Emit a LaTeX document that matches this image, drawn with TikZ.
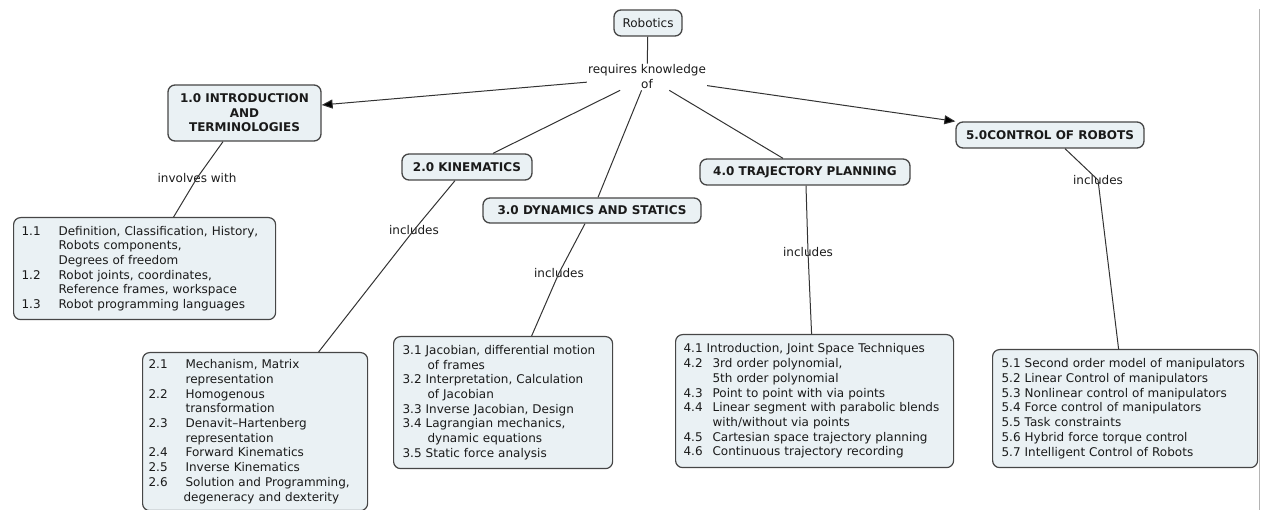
\documentclass[tikz,border=0pt]{standalone}
\usepackage{fontspec}
\setmainfont{DejaVu Sans}
\usetikzlibrary{arrows.meta}
\definecolor{boxfill}{HTML}{EAF1F4}
\definecolor{boxline}{HTML}{464646}
\definecolor{wire}{HTML}{333333}
\definecolor{ink}{HTML}{1A1A1A}
\definecolor{rule}{HTML}{B4B4B4}
\begin{document}
\begin{tikzpicture}[x=1pt,y=-1pt,
  concept/.style={draw=boxline, line width=1.3pt, fill=boxfill, rounded corners=7pt,
    text=ink, font=\fontsize{12}{14.5}\selectfont\bfseries, inner sep=0pt, align=center},
  rootbox/.style={concept, font=\fontsize{12}{14.5}\selectfont},
  listbox/.style={draw=boxline, line width=1.2pt, fill=boxfill, rounded corners=7pt,
    text=ink, font=\fontsize{12}{14.7}\selectfont, anchor=north west, inner ysep=0pt, align=left},
  linkword/.style={text=ink, font=\fontsize{12}{15}\selectfont, align=center, inner sep=1pt},
  conn/.style={draw=wire, line width=1pt},
  arr/.style={conn, -{Triangle[length=11pt,width=9pt,fill=black]}}
]
\useasboundingbox (0,0) rectangle (1262,510);

% frame rule on the right
\coordinate (ruletop) at (1259,9);
\coordinate (rulebot) at (1259,510);
\draw[rule, line width=1pt] (ruletop) -- (rulebot);

% root concept and its linking phrase
\node[rootbox, minimum width=68pt, minimum height=26pt] (root) at (648,23) {Robotics};
\node[linkword] (req) at (647,77) {requires knowledge\\of};

% main topics
\node[concept, minimum width=153pt, minimum height=56pt] (intro) at (244.5,113)
  {1.0 INTRODUCTION\\AND\\TERMINOLOGIES};
\node[concept, minimum width=130pt, minimum height=26pt] (kin) at (467,167) {2.0 KINEMATICS};
\node[concept, minimum width=218pt, minimum height=25pt] (dyn) at (592,210.5) {3.0 DYNAMICS AND STATICS};
\node[concept, minimum width=210pt, minimum height=26pt] (traj) at (805,172) {4.0 TRAJECTORY PLANNING};
\node[concept, minimum width=188pt, minimum height=26pt] (ctrl) at (1050,135) {5.0CONTROL OF ROBOTS};

% linking phrases below the topics
\node[linkword] (lk1) at (197,178) {involves with};
\node[linkword] (lk2) at (414,230) {includes};
\node[linkword] (lk3) at (559,273) {includes};
\node[linkword] (lk4) at (808,252) {includes};
\node[linkword] (lk5) at (1098,180) {includes};

% sub-topic lists
\node[listbox, minimum width=262pt, minimum height=102pt, inner xsep=8pt, text width=246pt]
  (items1) at (13,217) {%
  \makebox[37pt][l]{1.1}Definition, Classification, History,\\
  \hspace*{37pt}Robots components,\\
  \hspace*{37pt}Degrees of freedom\\
  \makebox[37pt][l]{1.2}Robot joints, coordinates,\\
  \hspace*{37pt}Reference frames, workspace\\
  \makebox[37pt][l]{1.3}Robot programming languages};

\node[listbox, minimum width=225pt, minimum height=158pt, inner xsep=6pt, text width=213pt]
  (items2) at (142,352) {%
  \makebox[37pt][l]{2.1}Mechanism, Matrix\\
  \hspace*{37pt}representation\\
  \makebox[37pt][l]{2.2}Homogenous\\
  \hspace*{37pt}transformation\\
  \makebox[37pt][l]{2.3}Denavit–Hartenberg\\
  \hspace*{37pt}representation\\
  \makebox[37pt][l]{2.4}Forward Kinematics\\
  \makebox[37pt][l]{2.5}Inverse Kinematics\\
  \makebox[37pt][l]{2.6}Solution and Programming,\\
  \hspace*{35pt}degeneracy and dexterity};

\node[listbox, minimum width=219pt, minimum height=132pt, inner xsep=9pt, text width=201pt]
  (items3) at (393,336) {%
  3.1 Jacobian, differential motion\\
  \hspace*{25pt}of frames\\
  3.2 Interpretation, Calculation\\
  \hspace*{25pt}of Jacobian\\
  3.3 Inverse Jacobian, Design\\
  3.4 Lagrangian mechanics,\\
  \hspace*{25pt}dynamic equations\\
  3.5 Static force analysis};

\node[listbox, minimum width=278pt, minimum height=133pt, inner xsep=8pt, text width=262pt]
  (items4) at (675,334) {%
  4.1 Introduction, Joint Space Techniques\\
  \makebox[29pt][l]{4.2}3rd order polynomial,\\
  \hspace*{29pt}5th order polynomial\\
  \makebox[29pt][l]{4.3}Point to point with via points\\
  \makebox[29pt][l]{4.4}Linear segment with parabolic blends\\
  \hspace*{29pt}with/without via points\\
  \makebox[29pt][l]{4.5}Cartesian space trajectory planning\\
  \makebox[29pt][l]{4.6}Continuous trajectory recording};

\node[listbox, minimum width=265pt, minimum height=118pt, inner xsep=9pt, text width=247pt]
  (items5) at (992,349) {%
  5.1 Second order model of manipulators\\
  5.2 Linear Control of manipulators\\
  5.3 Nonlinear control of manipulators\\
  5.4 Force control of manipulators\\
  5.5 Task constraints\\
  5.6 Hybrid force torque control\\
  5.7 Intelligent Control of Robots};

% connectors from the root
\draw[conn] (root) -- (req);
\draw[arr] (req) -- ([yshift=8pt]intro.east);
\draw[conn] (req) -- ([xshift=26pt]kin.north);
\draw[conn] (req) -- ([xshift=6pt]dyn.north);
\draw[conn] (req) -- ([xshift=-22pt]traj.north);
\draw[arr] (req) -- (ctrl.north west);

% connectors from topics to their lists
\draw[conn] ([xshift=-21.5pt]intro.south) -- (lk1.center) -- ([xshift=29pt]items1.north);
\draw[conn] ([xshift=-12pt]kin.south) -- (lk2.center) -- ([xshift=63.5pt]items2.north);
\draw[conn] ([xshift=-7pt]dyn.south) -- (lk3.center) -- ([xshift=28.5pt]items3.north);
\draw[conn] ([xshift=1pt]traj.south) -- (lk4.center) -- ([xshift=-3pt]items4.north);
\draw[conn] ([xshift=15pt]ctrl.south) -- (lk5.center) -- ([xshift=-6.5pt]items5.north);
\end{tikzpicture}
\end{document}
